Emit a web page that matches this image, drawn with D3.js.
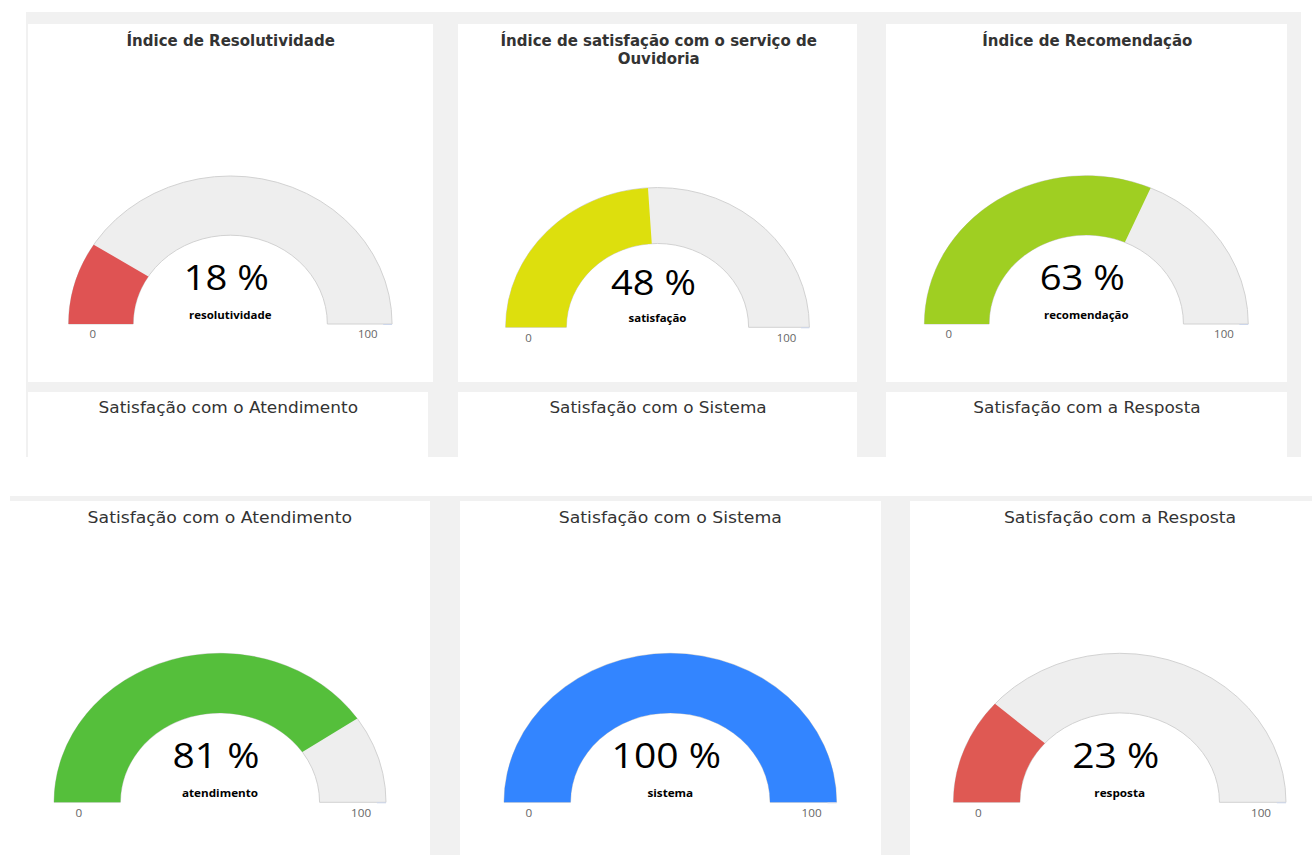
<!DOCTYPE html>
<html>
<head>
<meta charset="utf-8">
<script src="https://cdn.jsdelivr.net/npm/d3@7/dist/d3.min.js"></script>
<style>
  html, body { margin: 0; padding: 0; background: #ffffff; }
  svg { display: block; }
</style>
</head>
<body>
<svg id="chart" width="1312" height="855"></svg>
<script>
// ---------------- DATA ----------------
const titles = [
  "Índice de Resolutividade",
  "Índice de satisfação com o serviço de Ouvidoria",
  "Índice de Recomendação",
  "Satisfação com o Atendimento",
  "Satisfação com o Sistema",
  "Satisfação com a Resposta"
];
const values = [18, 48, 63, 81, 100, 23];
const seriesLabels = ["resolutividade", "satisfação", "recomendação", "atendimento", "sistema", "resposta"];
const seriesColors = ["#df5353", "#dddf0d", "#9fcf22", "#55bf3b", "#3385ff", "#df5953"];
const axisDomain = [0, 100];
const tickLabels = ["0", "100"];
const cutTitles = ["Satisfação com o Atendimento", "Satisfação com o Sistema", "Satisfação com a Resposta"];

// ---------------- LAYOUT ----------------
const bgGray = "#f1f1f1";
const sectionRects = [
  { x: 26, y: 12, w: 1275, h: 445, fill: bgGray },
  { x: 10, y: 496, w: 1302, h: 359, fill: bgGray }
];
const panelRects = [
  { x: 28, y: 24, w: 405, h: 358 },
  { x: 458, y: 24, w: 399, h: 358 },
  { x: 886, y: 24, w: 401, h: 358 },
  { x: 28, y: 392, w: 400, h: 65 },
  { x: 458, y: 392, w: 399, h: 65 },
  { x: 886, y: 392, w: 401, h: 65 },
  { x: 10, y: 501, w: 420, h: 354 },
  { x: 460, y: 501, w: 421, h: 354 },
  { x: 910, y: 501, w: 402, h: 354 }
];
// gauge geometry (center, baseline, vertical radius, horizontal stretch)
const gaugeLayout = [
  { cx: 230.3, cy: 324.0, r: 148.0, sx: 1.093, tx: 230.7, ty: 45.7, bold: true },
  { cx: 657.5, cy: 327.3, r: 139.7, sx: 1.087, tx: 658.7, ty: 45.7, bold: true },
  { cx: 1086.3, cy: 324.0, r: 148.3, sx: 1.092, tx: 1087.3, ty: 45.7, bold: true },
  { cx: 220.0, cy: 802.3, r: 149.0, sx: 1.114, tx: 219.8, ty: 522.7, bold: false },
  { cx: 670.3, cy: 802.3, r: 149.0, sx: 1.116, tx: 670.3, ty: 522.7, bold: false },
  { cx: 1119.7, cy: 802.3, r: 149.0, sx: 1.116, tx: 1120.0, ty: 522.7, bold: false }
];
const cutTitleLayout = [
  { x: 228.3, y: 412.7, sx: 1.093 },
  { x: 658.0, y: 412.7, sx: 1.087 },
  { x: 1087.0, y: 412.7, sx: 1.092 }
];

const svg = d3.select("#chart");

svg.selectAll("rect.section").data(sectionRects).join("rect")
  .attr("class", "section")
  .attr("x", d => d.x).attr("y", d => d.y)
  .attr("width", d => d.w).attr("height", d => d.h)
  .attr("fill", d => d.fill);

svg.selectAll("rect.panel").data(panelRects).join("rect")
  .attr("class", "panel")
  .attr("x", d => d.x).attr("y", d => d.y)
  .attr("width", d => d.w).attr("height", d => d.h)
  .attr("fill", "#ffffff");

const angle = d3.scaleLinear().domain(axisDomain).range([-Math.PI / 2, Math.PI / 2]).clamp(true);

function addTitle(text, x, y, sx, bold, maxWidth) {
  const scaleX = bold ? 1 : sx;
  const t = svg.append("text")
    .attr("transform", `translate(${x},${y}) scale(${scaleX},1)`)
    .attr("text-anchor", "middle")
    .attr("fill", "#333333")
    .style("font-family", "'DejaVu Sans', sans-serif")
    .style("font-weight", bold ? 700 : 400)
    .style("font-size", bold ? "15px" : "15.5px");
  // simple word wrap
  const words = text.split(" ");
  let line = [];
  let tspan = t.append("tspan").attr("x", 0).attr("dy", 0);
  words.forEach(w => {
    line.push(w);
    tspan.text(line.join(" "));
    if (tspan.node().getComputedTextLength() * scaleX > maxWidth && line.length > 1) {
      line.pop();
      tspan.text(line.join(" "));
      line = [w];
      tspan = t.append("tspan").attr("x", 0).attr("dy", 18.3).text(w);
    }
  });
}

values.forEach((v, i) => {
  const L = gaugeLayout[i];
  addTitle(titles[i], L.tx, L.ty, L.sx, L.bold, 360);

  const g = svg.append("g").attr("transform", `translate(${L.cx},${L.cy}) scale(${L.sx},1)`);
  const inner = L.r * 0.6;
  const bgArc = d3.arc().innerRadius(inner).outerRadius(L.r)
    .startAngle(angle(axisDomain[0])).endAngle(angle(axisDomain[1]));
  g.append("path").attr("d", bgArc())
    .attr("fill", "#eeeeee")
    .attr("stroke", "#d2d2d2")
    .attr("stroke-width", 1)
    .attr("vector-effect", "non-scaling-stroke");

  const valArc = d3.arc().innerRadius(inner).outerRadius(L.r)
    .startAngle(angle(axisDomain[0])).endAngle(angle(v));
  g.append("path").attr("d", valArc()).attr("fill", seriesColors[i]);

  // axis end tick
  g.append("line")
    .attr("x1", L.r * 0.945).attr("x2", L.r).attr("y1", 0.5).attr("y2", 0.5)
    .attr("stroke", "#ccd6eb").attr("stroke-width", 1)
    .attr("vector-effect", "non-scaling-stroke");

  // tick labels
  const tickPos = [-0.85 * L.r, 0.85 * L.r];
  g.selectAll("text.tick").data(tickLabels).join("text")
    .attr("class", "tick")
    .attr("x", (d, k) => tickPos[k])
    .attr("y", 14.5)
    .attr("text-anchor", "middle")
    .attr("fill", "#666666")
    .style("font-family", "'Open Sans', sans-serif")
    .style("font-size", "10.5px")
    .text(d => d);

  // value label
  g.append("text")
    .attr("x", -4 / L.sx)
    .attr("y", -0.23 * L.r)
    .attr("text-anchor", "middle")
    .attr("fill", "#000000")
    .style("font-family", "'Open Sans', sans-serif")
    .style("font-size", "35px")
    .text(v + " %");

  g.append("text")
    .attr("x", 0)
    .attr("y", -5)
    .attr("text-anchor", "middle")
    .attr("fill", "#000000")
    .style("font-family", "'Open Sans', sans-serif")
    .style("font-weight", 700)
    .style("font-size", "10.5px")
    .text(seriesLabels[i]);
});

cutTitles.forEach((t, i) => {
  const L = cutTitleLayout[i];
  addTitle(t, L.x, L.y, L.sx, false, 360);
});
</script>
</body>
</html>
